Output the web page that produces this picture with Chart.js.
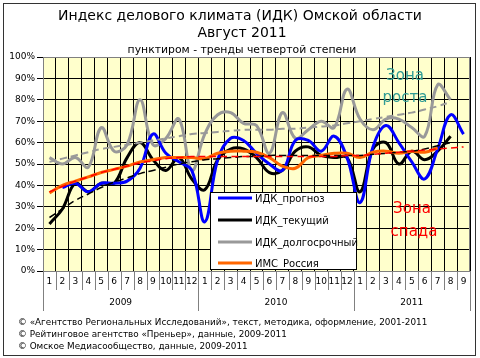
<!DOCTYPE html>
<html><head><meta charset="utf-8">
<script src="https://cdn.jsdelivr.net/npm/chart.js@4/dist/chart.umd.min.js"></script>
<style>html,body{margin:0;padding:0;background:#fff}#wrap{width:480px;height:358px;position:relative}canvas{display:block}</style>
</head><body><div id="wrap"><canvas id="c" width="480" height="358"></canvas></div>
<script>
// ---- data ----
const months = ['1','2','3','4','5','6','7','8','9','10','11','12',
                '1','2','3','4','5','6','7','8','9','10','11','12',
                '1','2','3','4','5','6','7','8','9'];
const years = ['2009','2010','2011'];
const yTicks = [0,10,20,30,40,50,60,70,80,90,100];

const idkForecast = [null,39,41,37,41,41,42,48,64,55,51,47,
                     23,52,62,61,55,50,47,61,61,56,63,53,
                     32,58,68,60,51,43,57,73,64];
const idkCurrent  = [22,29,41,37,41,41,53,60,52,47,53,43,
                     38,52,57,57,53,46,47,56,58,54,53,53,
                     37,57,60,50,56,52,56,63,null];
const idkLong     = [53,50,53,48.5,67,56,59,80,59,62,71,47,
                     64,73,74,69,68,55,74,62,66,70,67,85,
                     71,66,71,71,67,63,87,80,null];
const imsRussia   = [36.5,40,42,44,46,47.5,49,51,52,53,53,53,
                     52.5,55,56,56,55.5,53,49,48,53,54,55,55,
                     53,55.5,56,55,56,55.5,57.5,null,null];
// trends
const trendCurrent = [25,29,33,36,39,41.5,43.5,45.5,47,48.5,50,51,
                      52,52.5,53,53.5,53.5,54,54,54,54,54,54,54,
                      54,54.5,55,55.5,56,57,58.5,60,null];
const trendLong    = [51,52.5,54,55.5,57,58,59,60,61,62,63,64,
                      64.5,65,65.5,66,66,66,66.5,66.5,67,67.5,68,69,
                      70,71,72,73,74,75.5,77,79,null];
const trendIms     = [37,39.5,42,44,46,47.5,49,50.5,51.5,52.5,53,53.5,
                      53.5,53.5,53.5,53.5,53.5,53.5,53.5,53.5,53.5,53.5,53.5,54,
                      54,54.5,55,55.5,56,56.5,57,57.5,58];

const seriesNames = ['ИДК_прогноз','ИДК_текущий','ИДК_долгосрочный','ИМС_Россия'];
const titleLines = ['Индекс делового климата (ИДК) Омской области','Август 2011'];
const subtitle = 'пунктиром - тренды четвертой степени';
const zoneUp = ['Зона','роста'];
const zoneDown = ['Зона','спада'];
const footer = ['© «Агентство Региональных Исследований», текст, методика, оформление, 2001-2011',
                '© Рейтинговое агентство «Преньер», данные, 2009-2011',
                '© Омское Медиасообщество, данные, 2009-2011'];

const FONT = '"DejaVu Sans", Verdana, sans-serif';
const COLORS = ['#0000ff','#000000','#999999','#ff6600'];

function fitFont(ctx, text, width, family, weight){
  ctx.font = (weight||'') + ' 20px ' + family;
  const m = ctx.measureText(text).width;
  return 20*width/m;
}

const overlay = {
  id:'overlay',
  beforeDraw(chart){
    const {ctx, chartArea:a} = chart;
    ctx.save();
    ctx.fillStyle = '#ffffff'; ctx.fillRect(0,0,chart.width,chart.height);
    ctx.fillStyle = '#ffffcc'; ctx.fillRect(a.left,a.top,a.right-a.left,a.bottom-a.top);
    ctx.restore();
  },
  afterDraw(chart){
    const {ctx, chartArea:a} = chart;
    const xs = chart.scales.x;
    ctx.save();
    // frame
    ctx.strokeStyle = '#333'; ctx.lineWidth = 1;
    ctx.strokeRect(3.5,3.5,472,352);
    // plot border
    ctx.strokeStyle = '#808080';
    ctx.strokeRect(a.left+0.5,a.top+0.5,a.right-a.left-1,a.bottom-a.top);
    // titles
    ctx.fillStyle = '#000'; ctx.textAlign = 'center'; ctx.textBaseline = 'middle';
    let s = fitFont(ctx,titleLines[0],364,FONT);
    ctx.font = s+'px '+FONT;
    ctx.fillText(titleLines[0],240,16);
    ctx.fillText(titleLines[1],242,33);
    let s2 = fitFont(ctx,subtitle,229,FONT);
    ctx.font = s2+'px '+FONT;
    ctx.fillText(subtitle,242,50);
    // category axis
    const n = months.length;
    const step = (a.right-a.left)/n;
    ctx.font = '9px '+FONT;
    ctx.strokeStyle = '#808080';
    const yearStarts = [];
    months.forEach((m,i)=>{ if(m==='1') yearStarts.push(i); });
    for(let i=0;i<=n;i++){
      const bx = Math.round(xs.getPixelForValue(Math.min(i,n-1)) + (i===n? step/2 : -step/2)) + 0.5;
      const isYear = yearStarts.includes(i) || i===n;
      ctx.beginPath(); ctx.moveTo(bx,a.bottom); ctx.lineTo(bx, isYear?311:290); ctx.stroke();
    }
    months.forEach((m,i)=>{ ctx.fillText(m, xs.getPixelForValue(i), 282); });
    yearStarts.forEach((st,k)=>{
      const en = (k+1<yearStarts.length? yearStarts[k+1]: n) - 1;
      const cx = (xs.getPixelForValue(st)+xs.getPixelForValue(en))/2;
      ctx.fillText(years[k], cx, 303);
    });
    // zone labels
    ctx.font = '15px '+FONT;
    ctx.fillStyle = '#2f9c94';
    ctx.fillText(zoneUp[0],405,76); ctx.fillText(zoneUp[1],405,98);
    ctx.fillStyle = '#ff0000';
    ctx.fillText(zoneDown[0],412,209); ctx.fillText(zoneDown[1],414,232);
    // legend box
    ctx.fillStyle = '#fff'; ctx.fillRect(210.5,192.5,146,77);
    ctx.strokeStyle = '#000'; ctx.strokeRect(210.5,192.5,146,77);
    ctx.font = '10px '+FONT; ctx.textAlign = 'left';
    const ly = [198,220,242,263];
    seriesNames.forEach((nm,k)=>{
      ctx.strokeStyle = COLORS[k]; ctx.lineWidth = 3;
      ctx.beginPath(); ctx.moveTo(218,ly[k]); ctx.lineTo(252,ly[k]); ctx.stroke();
      ctx.fillStyle = '#000'; ctx.fillText(nm,255,ly[k]+1);
    });
    // footer
    ctx.textAlign = 'left';
    let fs = fitFont(ctx,footer[0],410,FONT);
    ctx.font = fs+'px '+FONT;
    ctx.fillText(footer[0],18,323);
    ctx.fillText(footer[1],18,335);
    ctx.fillText(footer[2],18,347);
    ctx.restore();
  }
};

function line(label,data,color,width,order,dash){
  return {label,data,borderColor:color,backgroundColor:color,borderWidth:width,
          pointRadius:0,pointHoverRadius:0,tension:0.4,fill:false,order,
          borderDash:dash||[],spanGaps:false};
}

new Chart(document.getElementById('c'),{
  type:'line',
  data:{
    labels:months,
    datasets:[
      line(seriesNames[0],idkForecast,COLORS[0],3,4),
      line(seriesNames[1],idkCurrent,COLORS[1],3,5),
      line(seriesNames[2],idkLong,COLORS[2],3,6),
      line(seriesNames[3],imsRussia,COLORS[3],3,3),
      line('тренд_текущий',trendCurrent,'#000000',1.5,2,[7,4]),
      line('тренд_долгосрочный',trendLong,'#999999',2,2,[7,4]),
      line('тренд_ИМС',trendIms,'#ff0000',1.5,1,[7,4])
    ]
  },
  options:{
    responsive:false, animation:false, devicePixelRatio:1,
    layout:{padding:{left:0,right:10,top:57,bottom:87}},
    plugins:{legend:{display:false},tooltip:{enabled:false},title:{display:false}},
    scales:{
      x:{offset:true,
         grid:{offset:true,color:'#000',lineWidth:1,drawTicks:false},
         border:{display:false},
         ticks:{display:false},
         afterFit(s){s.height=0;}},
      y:{min:0,max:100,
         afterBuildTicks(s){ s.ticks = yTicks.map(v=>({value:v})); },
         grid:{color:'#000',lineWidth:1,tickLength:6,tickColor:'#000'},
         border:{display:true,color:'#000'},
         ticks:{padding:2,color:'#000',font:{family:FONT,size:9},callback:v=>v+'%'},
         afterFit(s){s.width=43;}}
    }
  },
  plugins:[overlay]
});
</script>
</body></html>
